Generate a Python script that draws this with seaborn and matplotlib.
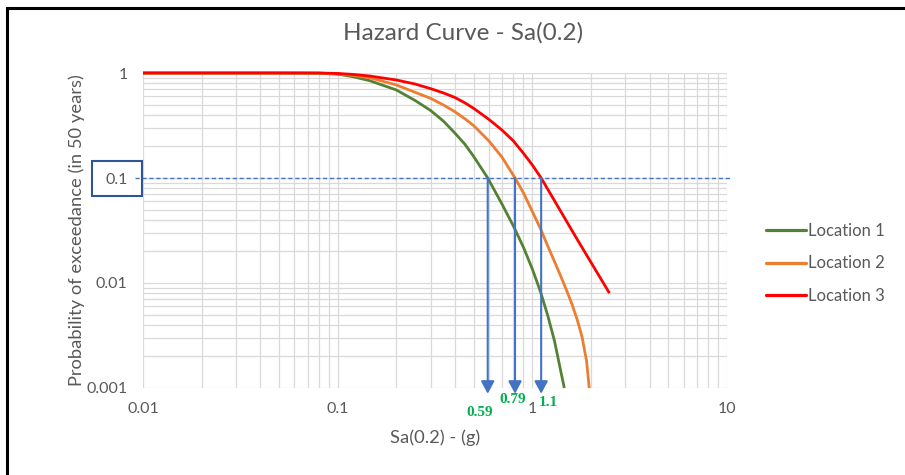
import numpy as np
import pandas as pd
import matplotlib
matplotlib.use("Agg")
import matplotlib.pyplot as plt
import matplotlib.ticker as mticker
from matplotlib.lines import Line2D
from matplotlib.patches import Rectangle
import seaborn as sns

# ---------------- data ----------------
loc1_x = [0.01, 0.05, 0.08, 0.1, 0.12, 0.146, 0.2, 0.25, 0.3, 0.35, 0.4, 0.45, 0.5, 0.59,
          0.7, 0.8, 0.9, 1.0, 1.1, 1.2, 1.3, 1.4, 1.46]
loc1_y = [1.0, 1.0, 0.995, 0.975, 0.922, 0.845, 0.69, 0.547, 0.44, 0.347, 0.268, 0.21, 0.16, 0.1,
          0.056, 0.0348, 0.0219, 0.0136, 0.0083, 0.0049, 0.0028, 0.00144, 0.001]

loc2_x = [0.01, 0.05, 0.08, 0.1, 0.12, 0.146, 0.2, 0.25, 0.3, 0.35, 0.4, 0.45, 0.5, 0.6, 0.7,
          0.815, 0.9, 1.0, 1.1, 1.2, 1.3, 1.4, 1.5, 1.6, 1.7, 1.8, 1.9, 1.96]
loc2_y = [1.0, 1.0, 0.998, 0.98, 0.95, 0.9, 0.77, 0.655, 0.574, 0.495, 0.428, 0.367, 0.315, 0.224, 0.157,
          0.1, 0.0722, 0.048, 0.0331, 0.0225, 0.016, 0.0116, 0.0085, 0.00625, 0.00448, 0.00308, 0.0018, 0.001]

loc3_x = [0.01, 0.05, 0.08, 0.1, 0.12, 0.146, 0.2, 0.25, 0.3, 0.35, 0.4, 0.45, 0.5, 0.6,
          0.7, 0.8, 0.9, 1.0, 1.11, 1.68, 2.49]
loc3_y = [1.0, 1.0, 1.0, 0.99, 0.97, 0.936, 0.858, 0.785, 0.71, 0.645, 0.585, 0.52, 0.46, 0.36,
          0.285, 0.225, 0.172, 0.133, 0.1, 0.027, 0.008]

locations = ["Location 1", "Location 2", "Location 3"]
colors = ["#548235", "#ED7D31", "#FF0000"]

x_ticks = [0.01, 0.1, 1, 10]
x_tick_labels = ["0.01", "0.1", "1", "10"]
y_ticks = [0.001, 0.01, 0.1, 1]
y_tick_labels = ["0.001", "0.01", "0.1", "1"]

threshold = 0.1
arrow_x = [0.59, 0.815, 1.11]
arrow_labels = ["0.59", "0.79", "1.1"]

title = "Hazard Curve - Sa(0.2)"
x_label = "Sa(0.2) - (g)"
y_label = "Probability of exceedance (in 50 years)"

df = pd.concat([
    pd.DataFrame({"Sa": loc1_x, "P": loc1_y, "Location": locations[0]}),
    pd.DataFrame({"Sa": loc2_x, "P": loc2_y, "Location": locations[1]}),
    pd.DataFrame({"Sa": loc3_x, "P": loc3_y, "Location": locations[2]}),
], ignore_index=True)

# ---------------- figure ----------------
sns.set_theme(style="white")
plt.rcParams["font.family"] = ["Lato", "DejaVu Sans"]
txt = "#595959"

W, H = 905, 475
fig = plt.figure(figsize=(W / 100, H / 100), dpi=100)
ax = fig.add_axes([143 / W, 1 - 388 / H, (727 - 143) / W, (388 - 73) / H])

sns.lineplot(data=df, x="Sa", y="P", hue="Location", palette=dict(zip(locations, colors)),
             estimator=None, sort=True, lw=2.0, ax=ax, legend=False)
for ln in ax.lines:
    ln.set_clip_on(False)
    ln.set_solid_capstyle("butt")
    ln.set_solid_joinstyle("round")

ax.set_xscale("log")
ax.set_yscale("log")
ax.set_xlim(0.01, 10)
ax.set_ylim(0.001, 1)

ax.xaxis.set_major_locator(mticker.FixedLocator(x_ticks))
ax.xaxis.set_major_formatter(mticker.FixedFormatter(x_tick_labels))
ax.yaxis.set_major_locator(mticker.FixedLocator(y_ticks))
ax.yaxis.set_major_formatter(mticker.FixedFormatter(y_tick_labels))
ax.xaxis.set_minor_locator(mticker.LogLocator(base=10, subs=np.arange(2, 10), numticks=20))
ax.yaxis.set_minor_locator(mticker.LogLocator(base=10, subs=np.arange(2, 10), numticks=20))
ax.xaxis.set_minor_formatter(mticker.NullFormatter())
ax.yaxis.set_minor_formatter(mticker.NullFormatter())

ax.grid(which="both", color="#D9D9D9", lw=0.9)
ax.set_axisbelow(True)
for s in ax.spines.values():
    s.set_visible(False)
ax.tick_params(which="both", length=0)
ax.tick_params(axis="x", pad=10, labelsize=11.5, labelcolor=txt)
ax.tick_params(axis="y", pad=11, labelsize=11.5, labelcolor=txt)

ax.set_xlabel(x_label, fontsize=13.2, color=txt)
ax.set_ylabel(y_label, fontsize=13.2, color=txt)
ax.xaxis.set_label_coords(0.5, -0.131)
ax.yaxis.set_label_coords(-0.100, 0.5)

fig.text(463 / W, 1 - 33 / H, title, ha="center", va="center", fontsize=17.5, color=txt)

# threshold dashed line
trans = matplotlib.transforms.blended_transform_factory(ax.transAxes, ax.transData)
ax.plot([-0.014, 1.005], [threshold, threshold], transform=trans, color="#4472C4",
        lw=1.0, ls=(0, (3, 2)), clip_on=False, zorder=3)

# arrows
for xv in arrow_x:
    ax.annotate("", xy=(xv, 0.00088), xytext=(xv, threshold), xycoords="data",
                arrowprops=dict(arrowstyle="-|>,head_length=0.75,head_width=0.4",
                                mutation_scale=10, color="#4472C4", lw=1.5,
                                shrinkA=0, shrinkB=0),
                annotation_clip=False, zorder=4)

label_offsets = [(-6, -17.5), (-2, -8.5), (5, -10.5)]
for xv, lab, (dx, dy) in zip(arrow_x, arrow_labels, label_offsets):
    ax.annotate(lab, xy=(xv, 0.001), xytext=(dx, dy), textcoords="offset points",
                ha="center", va="center", fontsize=11, fontweight="bold",
                family=["Liberation Serif", "DejaVu Serif"], color="#00B050",
                annotation_clip=False)

# box around the 0.1 label
fig.patches.append(Rectangle((92 / W, 1 - 196 / H), 50 / W, 35 / H, transform=fig.transFigure,
                             fill=False, ec="#2F5597", lw=1.5))

# outer black frame
fig.patches.append(Rectangle((7 / W, -0.2), 1.5, 1.2 - 8 / H, transform=fig.transFigure,
                             fill=False, ec="black", lw=2.2))

# legend
handles = [Line2D([0], [0], color=c, lw=2.3) for c in colors]
ax.legend(handles, locations, loc="upper left", bbox_to_anchor=(766 / W, 1 - 222.5 / H),
          bbox_transform=fig.transFigure, frameon=False, borderpad=0, borderaxespad=0,
          handlelength=2.4, handletextpad=0.1, labelspacing=1.01, fontsize=12,
          labelcolor=txt)

fig.savefig("out.png", dpi=100)
